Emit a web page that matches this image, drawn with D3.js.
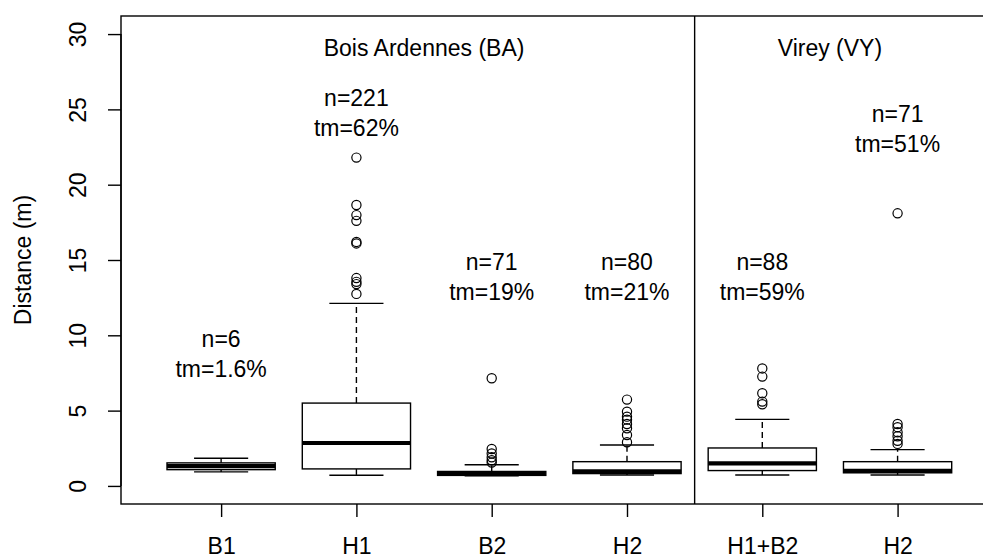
<!DOCTYPE html>
<html>
<head>
<meta charset="utf-8">
<script src="https://cdn.jsdelivr.net/npm/d3@7"></script>
<style>
  html, body { margin: 0; padding: 0; background: #fff; }
  svg text { font-family: "Liberation Sans", Arial, sans-serif; fill: #000; }
</style>
</head>
<body>
<svg id="chart" width="983" height="558"></svg>
<script>
// Dispersal distance per group (metres)
const categories   = ["B1", "H1", "B2", "H2", "H1+B2", "H2"];
const lowerWhisker = [0.93, 0.71, 0.68, 0.73, 0.73, 0.73];
const q1           = [1.08, 1.13, 0.70, 0.82, 1.02, 0.87];
const median       = [1.32, 2.85, 0.82, 0.97, 1.50, 1.00];
const q3           = [1.53, 5.50, 0.96, 1.61, 2.52, 1.61];
const upperWhisker = [1.84, 12.12, 1.41, 2.72, 4.42, 2.41];
const outliers = [
  [],
  [21.8, 18.65, 17.98, 17.6, 16.2, 16.1, 13.8, 13.55, 13.4, 12.75],
  [7.15, 2.45, 2.15, 1.9, 1.7, 1.55],
  [5.73, 4.93, 4.6, 4.4, 4.11, 3.83, 3.38, 2.9],
  [7.8, 7.26, 6.15, 5.6, 5.42],
  [18.1, 4.11, 3.9, 3.56, 3.3, 3.0, 2.79]
];
const nCounts   = [6, 221, 71, 80, 88, 71];
const tmPercent = ["1.6", "62", "19", "21", "59", "51"];
const labelHeight = [8.7, 24.7, 13.8, 13.8, 13.8, 23.6];

const sites       = ["Bois Ardennes (BA)", "Virey (VY)"];
const siteCenter  = [2.5, 5.5];
const siteTitleAt = 29;
const siteDivider = 4.5;

const yTicks = [0, 5, 10, 15, 20, 25, 30];

const svg = d3.select("#chart");
const FS = 23;

const x = d3.scaleLinear().domain([0.26, 6.74]).range([121, 997.7]);
const y = d3.scaleLinear().domain([-1.2, 31.2]).range([504, 16]);
const unit = x(2) - x(1);
const boxW = 0.8 * unit;
const capW = 0.4 * unit;

const g = svg.append("g");

// Plot frame (right edge runs past the canvas)
g.append("rect")
  .attr("x", x(0.26)).attr("y", y(31.2))
  .attr("width", x(6.74) - x(0.26)).attr("height", y(-1.2) - y(31.2))
  .attr("fill", "none").attr("stroke", "#000").attr("stroke-width", 1.4);

// Site divider
g.append("line")
  .attr("x1", x(siteDivider)).attr("x2", x(siteDivider))
  .attr("y1", y(31.2)).attr("y2", y(-1.2))
  .attr("stroke", "#000").attr("stroke-width", 1.4);

// Y axis
const yAxis = d3.axisLeft(y).tickValues(yTicks).tickSize(13).tickFormat(d3.format("d"));
const ya = g.append("g").attr("transform", `translate(${x(0.26)},0)`).call(yAxis);
ya.select(".domain").attr("d", `M-0,${y(0)}V${y(30)}`).attr("stroke", "#000").attr("stroke-width", 1.4);
ya.selectAll(".tick line").attr("stroke", "#000").attr("stroke-width", 1.4);
ya.selectAll(".tick text")
  .attr("font-size", FS).attr("font-family", "Liberation Sans, Arial, sans-serif")
  .attr("fill", "#000")
  .attr("x", 0).attr("y", 0).attr("dy", null)
  .attr("text-anchor", "middle")
  .attr("transform", "translate(-35,0) rotate(-90)");

// X axis
const xAxis = d3.axisBottom(x).tickValues(d3.range(1, categories.length + 1))
  .tickSize(13).tickFormat(d => categories[d - 1]);
const xa = g.append("g").attr("transform", `translate(0,${y(-1.2)})`).call(xAxis);
xa.select(".domain").remove();
xa.selectAll(".tick line").attr("stroke", "#000").attr("stroke-width", 1.4);
xa.selectAll(".tick text")
  .attr("font-size", FS).attr("font-family", "Liberation Sans, Arial, sans-serif")
  .attr("fill", "#000").attr("y", 50).attr("dy", null);

// Y axis title
g.append("text")
  .attr("transform", `translate(31,${(y(31.2) + y(-1.2)) / 2}) rotate(-90)`)
  .attr("text-anchor", "middle").attr("font-size", FS)
  .text("Distance (m)");

// Boxes
const groups = g.selectAll(".grp").data(categories).join("g").attr("class", "grp");

groups.each(function (c, i) {
  const sel = d3.select(this);
  const cx = x(i + 1);
  // whiskers
  sel.append("line").attr("x1", cx).attr("x2", cx)
    .attr("y1", y(q3[i])).attr("y2", y(upperWhisker[i]))
    .attr("stroke", "#000").attr("stroke-width", 1.4).attr("stroke-dasharray", "6,4");
  sel.append("line").attr("x1", cx).attr("x2", cx)
    .attr("y1", y(q1[i])).attr("y2", y(lowerWhisker[i]))
    .attr("stroke", "#000").attr("stroke-width", 1.4).attr("stroke-dasharray", "6,4");
  // staples
  [upperWhisker[i], lowerWhisker[i]].forEach(v => {
    sel.append("line").attr("x1", cx - capW / 2).attr("x2", cx + capW / 2)
      .attr("y1", y(v)).attr("y2", y(v))
      .attr("stroke", "#000").attr("stroke-width", 1.4);
  });
  // box
  sel.append("rect")
    .attr("x", cx - boxW / 2).attr("width", boxW)
    .attr("y", y(q3[i])).attr("height", y(q1[i]) - y(q3[i]))
    .attr("fill", "#fff").attr("stroke", "#000").attr("stroke-width", 1.4);
  // median
  sel.append("line").attr("x1", cx - boxW / 2).attr("x2", cx + boxW / 2)
    .attr("y1", y(median[i])).attr("y2", y(median[i]))
    .attr("stroke", "#000").attr("stroke-width", 4.2);
  // outliers
  sel.selectAll("circle").data(outliers[i]).join("circle")
    .attr("cx", cx).attr("cy", v => y(v)).attr("r", 4.6)
    .attr("fill", "none").attr("stroke", "#000").attr("stroke-width", 1.2);
  // annotations
  const ly = y(labelHeight[i]);
  sel.append("text").attr("x", cx).attr("y", ly - 8)
    .attr("text-anchor", "middle").attr("font-size", FS)
    .text(`n=${nCounts[i]}`);
  sel.append("text").attr("x", cx).attr("y", ly + 22)
    .attr("text-anchor", "middle").attr("font-size", FS)
    .text(`tm=${tmPercent[i]}%`);
});

// Site titles
g.selectAll(".site").data(sites).join("text").attr("class", "site")
  .attr("x", (d, i) => x(siteCenter[i]))
  .attr("y", y(siteTitleAt) + 7)
  .attr("text-anchor", "middle").attr("font-size", FS)
  .text(d => d);
</script>
</body>
</html>
